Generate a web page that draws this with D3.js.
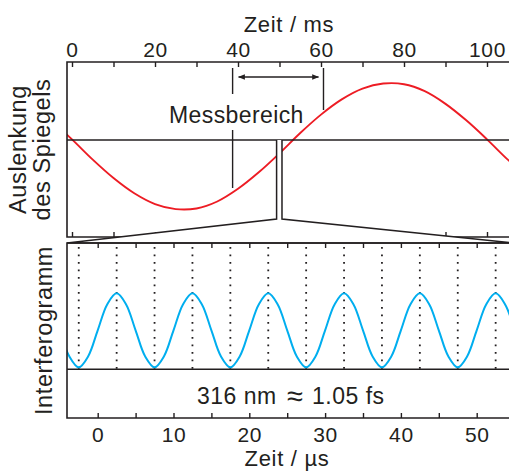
<!DOCTYPE html>
<html><head><meta charset="utf-8">
<script src="https://cdn.jsdelivr.net/npm/d3@7"></script>
<style>
html,body{margin:0;padding:0;background:#fff;}
svg{display:block;font-family:"Liberation Sans",Arial,Helvetica,sans-serif;}
</style></head>
<body>
<script>
// ---- data ----
const timeMs = [-5,0,5,10,15,20,25,30,35,40,45,50,55,60,65,70,75,80,85,90,95,100,105,110];
const deflection = [0.31,0.01,-0.31,-0.60,-0.84,-1.01,-1.09,-1.08,-0.97,-0.77,-0.51,-0.21,0.11,0.40,0.64,0.81,0.89,0.88,0.77,0.57,0.31,0.01,-0.31,-0.60];
const timeUs = [-5,-3.75,-2.5,-1.25,0,1.25,2.5,3.75,5,6.25,7.5,8.75,10,11.25,12.5,13.75,15,16.25,17.5,18.75,20,21.25,22.5,23.75,25,26.25,27.5,28.75,30,31.25,32.5,33.75,35,36.25,37.5,38.75,40,41.25,42.5,43.75,45,46.25,47.5,48.75,50,51.25,52.5,53.75,55];
const intensity = [0.5,0.15,0,0.15,0.5,0.85,1,0.85,0.5,0.15,0,0.15,0.5,0.85,1,0.85,0.5,0.15,0,0.15,0.5,0.85,1,0.85,0.5,0.15,0,0.15,0.5,0.85,1,0.85,0.5,0.15,0,0.15,0.5,0.85,1,0.85,0.5,0.15,0,0.15,0.5,0.85,1,0.85,0.5];
const msMajorTicks = [0,20,40,60,80,100];
const msMinorTicks = [10,30,50,70,90];
const usMajorTicks = [0,10,20,30,40,50];
const usMinorTicks = [5,15,25,35,45];
const dottedLines = [-2.5,2.5,7.5,12.5,17.5,22.5,27.5,32.5,37.5,42.5,47.5,52.5];
const measureRange = [38.7, 60.6];   // ms
const zoomWindow = [49.3, 50.6];     // ms
const baselineTop = 0;
const baselineBottom = -0.027;
const labels = {
  topTitle: "Zeit / ms", bottomTitle: "Zeit / µs",
  yTop1: "Auslenkung", yTop2: "des Spiegels", yBottom: "Interferogramm",
  measure: "Messbereich", noteA: "316 nm", approx: "\u2248", noteB: "1.05 fs"
};

// ---- layout ----
const W = 509, H = 471;
const ink = "#231f20", red = "#ed1c24", blue = "#00aeef";
const L = 67, R = 514;
const topP = {t: 62, b: 237}, botP = {t: 243, b: 418};

const svg = d3.select("body").append("svg").attr("width", W).attr("height", H);

const xTop = d3.scaleLinear().domain([0,100]).range([72, 487]);
const yTop = d3.scaleLinear().domain([-1.53, 1.23]).range([topP.b, topP.t]);
const xBot = d3.scaleLinear().domain([0,50]).range([97.7, 476.7]);
const yBot = d3.scaleLinear().domain([-0.685, 1.68]).range([botP.b, botP.t]);

const defs = svg.append("defs");
defs.append("clipPath").attr("id","cTop").append("rect")
  .attr("x", L).attr("y", topP.t).attr("width", R-L).attr("height", topP.b-topP.t);
defs.append("clipPath").attr("id","cBot").append("rect")
  .attr("x", L).attr("y", botP.t).attr("width", R-L).attr("height", botP.b-botP.t);
const mk = defs.append("marker").attr("id","arr").attr("viewBox","0 0 10 10")
  .attr("refX",9).attr("refY",5).attr("markerWidth",7).attr("markerHeight",7)
  .attr("markerUnits","userSpaceOnUse").attr("orient","auto-start-reverse");
mk.append("path").attr("d","M0,1 L10,5 L0,9 Z").attr("fill", ink);

function styleAxis(g, fs){
  g.select(".domain").remove();
  g.selectAll(".tick line").attr("stroke", ink).attr("stroke-width", 1.4);
  g.selectAll(".tick text").attr("fill", ink).attr("font-size", fs)
   .attr("letter-spacing", 0.6)
   .attr("font-family", "Liberation Sans, Arial, sans-serif");
}

// ---- top panel ----
const gT = svg.append("g");
gT.append("path").attr("clip-path","url(#cTop)")
  .datum(timeMs.map((t,i)=>[t, deflection[i]]))
  .attr("fill","none").attr("stroke", red).attr("stroke-width", 1.9)
  .attr("d", d3.line().x(d=>xTop(d[0])).y(d=>yTop(d[1])).curve(d3.curveCatmullRom));
gT.append("line").attr("x1", L).attr("x2", R).attr("y1", yTop(baselineTop)).attr("y2", yTop(baselineTop))
  .attr("stroke", ink).attr("stroke-width", 1.4);
gT.append("g").attr("transform", `translate(0,${topP.t})`)
  .call(d3.axisTop(xTop).tickValues(msMajorTicks).tickSize(-5).tickPadding(5).tickFormat(d3.format("d")))
  .call(g=>styleAxis(g, 21));
gT.append("g").attr("transform", `translate(0,${topP.t})`)
  .call(d3.axisTop(xTop).tickValues(msMinorTicks).tickSize(-5).tickFormat(""))
  .call(g=>styleAxis(g, 21));
gT.append("g").attr("transform", `translate(0,${topP.b})`)
  .call(d3.axisBottom(xTop).tickValues(d3.range(0,101,10)).tickSize(-5).tickFormat(""))
  .call(g=>styleAxis(g, 21));
gT.append("path").attr("fill","none").attr("stroke", ink).attr("stroke-width", 1.6)
  .attr("d", `M${R},${topP.t}H${L}V${topP.b}H${R}`);

// measurement markers
const mx0 = xTop(measureRange[0]), mx1 = xTop(measureRange[1]);
gT.append("line").attr("x1", mx0).attr("x2", mx0).attr("y1", 68).attr("y2", 94).attr("stroke", ink).attr("stroke-width", 1.4);
gT.append("line").attr("x1", mx0).attr("x2", mx0).attr("y1", 130).attr("y2", 188).attr("stroke", ink).attr("stroke-width", 1.4);
gT.append("line").attr("x1", mx1).attr("x2", mx1).attr("y1", 68).attr("y2", 110).attr("stroke", ink).attr("stroke-width", 1.4);
gT.append("line").attr("x1", mx0+6).attr("x2", mx1-5).attr("y1", 77).attr("y2", 77)
  .attr("stroke", ink).attr("stroke-width", 1.4)
  .attr("marker-start","url(#arr)").attr("marker-end","url(#arr)");
gT.append("text").attr("x", 169).attr("y", 123).attr("font-size", 23).attr("fill", ink)
  .attr("letter-spacing", 0.4).text(labels.measure);

// zoom connector
const zx0 = xTop(zoomWindow[0]), zx1 = xTop(zoomWindow[1]);
const zb = topP.b - 18;
svg.append("path").attr("fill","#fff").attr("stroke", ink).attr("stroke-width", 1.5)
  .attr("stroke-linejoin","miter")
  .attr("d", `M${zx0},${yTop(baselineTop)}V${zb}L${L},${botP.t}H${R}L${zx1},${zb}V${yTop(baselineTop)}`);

// ---- bottom panel ----
const gB = svg.append("g");
gB.selectAll("line.dot").data(dottedLines).join("line").attr("class","dot")
  .attr("clip-path","url(#cBot)")
  .attr("x1", d=>xBot(d)).attr("x2", d=>xBot(d))
  .attr("y1", botP.t + 4).attr("y2", yBot(baselineBottom))
  .attr("stroke", ink).attr("stroke-width", 1.8).attr("stroke-dasharray", "1.8,5.7");
gB.append("path").attr("clip-path","url(#cBot)")
  .datum(timeUs.map((t,i)=>[t, intensity[i]]))
  .attr("fill","none").attr("stroke", blue).attr("stroke-width", 2)
  .attr("d", d3.line().x(d=>xBot(d[0])).y(d=>yBot(d[1])).curve(d3.curveCatmullRom));
gB.append("line").attr("x1", L).attr("x2", R).attr("y1", yBot(baselineBottom)).attr("y2", yBot(baselineBottom))
  .attr("stroke", ink).attr("stroke-width", 1.4);
gB.append("g").attr("transform", `translate(0,${botP.t})`)
  .call(d3.axisTop(xBot).tickValues(usMajorTicks.concat(usMinorTicks)).tickSize(-5).tickFormat(""))
  .call(g=>styleAxis(g, 21));
gB.append("g").attr("transform", `translate(0,${botP.b})`)
  .call(d3.axisBottom(xBot).tickValues(usMajorTicks).tickSize(-5).tickPadding(9).tickFormat(d3.format("d")))
  .call(g=>styleAxis(g, 21));
gB.append("g").attr("transform", `translate(0,${botP.b})`)
  .call(d3.axisBottom(xBot).tickValues(usMinorTicks).tickSize(-5).tickFormat(""))
  .call(g=>styleAxis(g, 21));
gB.append("path").attr("fill","none").attr("stroke", ink).attr("stroke-width", 1.6)
  .attr("d", `M${R},${botP.t}H${L}V${botP.b}H${R}`);
const note = gB.append("text").attr("x", 197).attr("y", 404)
  .attr("font-size", 23).attr("fill", ink).attr("letter-spacing", 0.5);
note.append("tspan").text(labels.noteA);
note.append("tspan").attr("x", 287).attr("y", 405.5).attr("font-size", 29).attr("letter-spacing", 0).text(labels.approx);
note.append("tspan").attr("x", 312).attr("y", 404).text(labels.noteB);

// ---- titles ----
svg.append("text").attr("x", 289).attr("y", 32).attr("text-anchor","middle")
  .attr("font-size", 22).attr("letter-spacing", 0.7).attr("fill", ink).text(labels.topTitle);
svg.append("text").attr("x", 287).attr("y", 466).attr("text-anchor","middle")
  .attr("font-size", 22).attr("letter-spacing", 0.7).attr("fill", ink).text(labels.bottomTitle);
const yc1 = (topP.t + topP.b)/2, yc2 = (botP.t + botP.b)/2;
svg.append("text").attr("transform", `translate(26,${yc1}) rotate(-90)`).attr("text-anchor","middle")
  .attr("font-size", 23.5).attr("letter-spacing", 0.6).attr("fill", ink).text(labels.yTop1);
svg.append("text").attr("transform", `translate(50,${yc1}) rotate(-90)`).attr("text-anchor","middle")
  .attr("font-size", 23.5).attr("letter-spacing", 0.6).attr("fill", ink).text(labels.yTop2);
svg.append("text").attr("transform", `translate(52,${yc2}) rotate(-90)`).attr("text-anchor","middle")
  .attr("font-size", 23.5).attr("letter-spacing", 0.6).attr("fill", ink).text(labels.yBottom);
</script>
</body></html>
